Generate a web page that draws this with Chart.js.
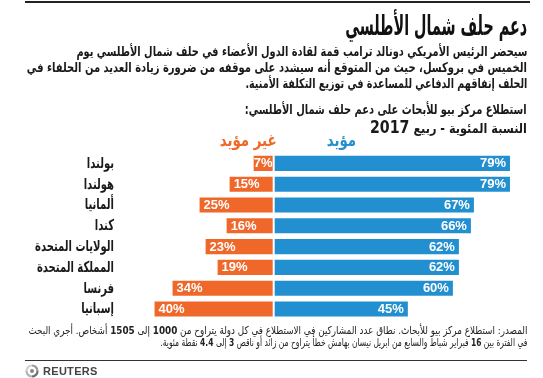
<!DOCTYPE html>
<html><head><meta charset="utf-8">
<script src="https://cdn.jsdelivr.net/npm/chart.js@4"></script>
<style>
html,body{margin:0;padding:0;background:#fff;}
#wrap{position:relative;width:543px;height:378px;overflow:hidden;background:#fff;font-family:"DejaVu Sans",sans-serif;color:#1a1a1a;}
#c{position:absolute;left:0;top:0;}
.t{position:absolute;white-space:nowrap;direction:rtl;text-align:right;transform-origin:100% 50%;}
.hr{position:absolute;background:#222;}
b{font-weight:bold;}
</style></head><body>
<div id="wrap">
<canvas id="c" width="543" height="378"></canvas>
<div class="hr" style="left:25px;top:1px;width:505px;height:2px"></div>
<div class="t" id="title" style="right:16px;top:10px;font-size:27px;line-height:32px;font-weight:bold;color:#111">دعم حلف شمال الأطلسي</div>
<div class="t" id="b1" style="right:16px;top:43px;font-size:13.5px;line-height:17px;font-weight:bold">سيحضر الرئيس الأمريكي دونالد ترامب قمة لقادة الدول الأعضاء في حلف شمال الأطلسي يوم</div>
<div class="t" id="b2" style="right:16px;top:59px;font-size:13.5px;line-height:17px;font-weight:bold">الخميس في بروكسل، حيث من المتوقع أنه سيشدد على موقفه من ضرورة زيادة العديد من الحلفاء في</div>
<div class="t" id="b3" style="right:16px;top:75px;font-size:13.5px;line-height:17px;font-weight:bold">الحلف إنفاقهم الدفاعي للمساعدة في توزيع التكلفة الأمنية.</div>
<div class="t" id="s1" style="right:16px;top:101px;font-size:13.5px;line-height:17px;font-weight:bold">استطلاع مركز بيو للأبحاث على دعم حلف شمال الأطلسي:</div>
<div class="t" id="s2" style="right:16px;top:118px;font-size:13.5px;line-height:18px;font-weight:bold">النسبة المئوية - ربيع <span style="font-size:17px">2017</span></div>
<div class="t" id="f1" style="right:16px;top:325px;font-size:11px;line-height:12px;color:#222">المصدر: استطلاع مركز بيو للأبحاث. نطاق عدد المشاركين في الاستطلاع في كل دولة يتراوح من <b>1000</b> إلى <b>1505</b> أشخاص. أجري البحث</div>
<div class="t" id="f2" style="right:16px;top:337px;font-size:11px;line-height:12px;color:#222">في الفترة بين <b>16</b> فبراير شباط والسابع من ابريل نيسان بهامش خطأ يتراوح من زائد أو ناقص <b>3</b> إلى <b>4.4</b> نقطة مئوية.</div>
<div class="hr" style="left:25px;top:360px;width:502px;height:1px;background:#333"></div>
<svg style="position:absolute;left:24px;top:364px" width="16" height="14" viewBox="0 0 16 14">
  <g fill="none" stroke-width="2.2">
    <path d="M8 1.5 A5.5 5.5 0 0 1 13.5 7" stroke="#9a9a9a"/>
    <path d="M13.5 7 A5.5 5.5 0 0 1 8 12.5" stroke="#6f6f6f"/>
    <path d="M8 12.5 A5.5 5.5 0 0 1 2.5 7" stroke="#b5b5b5"/>
    <path d="M2.5 7 A5.5 5.5 0 0 1 8 1.5" stroke="#d0d0d0"/>
  </g>
  <circle cx="8" cy="7" r="2" fill="#888"/>
</svg>
<div style="position:absolute;left:43px;top:365px;font-family:'Liberation Sans',Arial,sans-serif;font-weight:bold;font-size:11px;line-height:12px;color:#444;letter-spacing:0.3px">REUTERS</div>
</div>
<script>
// ---- data ----
const countries = ['بولندا','هولندا','ألمانيا','كندا','الولايات المتحدة','المملكة المتحدة','فرنسا','إسبانيا'];
const supportValues = [79,79,67,66,62,62,60,45];
const opposeValues = [7,15,25,16,23,19,34,40];
const seriesNames = ['مؤيد','غير مؤيد'];

const BLUE = '#2290d0';
const ORANGE = '#f0672a';

// squeeze HTML text lines horizontally to the reference widths
function squeeze(id, target){
  const el = document.getElementById(id);
  const w = el.getBoundingClientRect().width;
  el.style.transform = 'scaleX(' + (target/w) + ')';
}
squeeze('title', 182);
squeeze('b1', 451);
squeeze('b2', 500);
squeeze('b3', 282);
squeeze('s1', 282);
squeeze('s2', 157);
squeeze('f1', 499);
squeeze('f2', 367);

function drawSqueezed(ctx, text, x, y, align, sx){
  ctx.save();
  ctx.translate(x, y);
  ctx.scale(sx, 1);
  ctx.textAlign = align;
  ctx.fillText(text, 0, 0);
  ctx.restore();
}

const labelsPlugin = {
  id:'labelsPlugin',
  afterDatasetsDraw(chart){
    const ctx = chart.ctx;
    const xs = chart.scales.x, ys = chart.scales.y;
    const zero = xs.getPixelForValue(0);
    ctx.save();
    ctx.textBaseline = 'middle';
    // value labels
    ctx.font = 'bold 13px "Liberation Sans", Arial, sans-serif';
    ctx.fillStyle = '#fff';
    chart.getDatasetMeta(0).data.forEach((bar,i)=>{
      ctx.textAlign = 'right';
      ctx.fillText(supportValues[i]+'%', bar.x-5, bar.y+0.5);
    });
    chart.getDatasetMeta(1).data.forEach((bar,i)=>{
      const txt = opposeValues[i]+'%';
      const tw = ctx.measureText(txt).width;
      const w = zero - bar.x;
      if (w < tw + 10){
        ctx.textAlign = 'center';
        ctx.fillText(txt, (bar.x+zero)/2, bar.y+0.5);
      } else {
        ctx.textAlign = 'left';
        ctx.fillText(txt, bar.x+5, bar.y+0.5);
      }
    });
    // category labels (Arabic), drawn at the category scale positions
    ctx.direction = 'rtl';
    ctx.fillStyle = '#1a1a1a';
    ctx.font = 'bold 15px "DejaVu Sans", sans-serif';
    const refW = ctx.measureText(countries[4]).width;
    const sx = 79 / refW;
    countries.forEach((c,i)=>{
      drawSqueezed(ctx, c, 114, ys.getPixelForValue(i)+0.5, 'right', sx);
    });
    // legend words
    ctx.font = 'bold 17px "DejaVu Sans", sans-serif';
    const lw = ctx.measureText(seriesNames[1]).width;
    const lsx = 57 / lw;
    ctx.fillStyle = ORANGE;
    drawSqueezed(ctx, seriesNames[1], zero+3, 142, 'right', lsx);
    ctx.fillStyle = BLUE;
    drawSqueezed(ctx, seriesNames[0], zero+53, 142, 'left', lsx);
    ctx.restore();
  }
};

new Chart(document.getElementById('c'), {
  type:'bar',
  data:{
    labels: countries,
    datasets:[
      {label:seriesNames[0], data:supportValues, backgroundColor:BLUE, borderColor:'#fff', borderWidth:1, borderSkipped:false, barPercentage:0.82, categoryPercentage:1},
      {label:seriesNames[1], data:opposeValues.map(v=>-v), backgroundColor:ORANGE, borderColor:'#fff', borderWidth:1, borderSkipped:false, barPercentage:0.82, categoryPercentage:1}
    ]
  },
  options:{
    indexAxis:'y',
    responsive:false,
    animation:false,
    devicePixelRatio:1,
    layout:{padding:{left:0,right:8,top:153,bottom:58.6}},
    plugins:{legend:{display:false},tooltip:{enabled:false}},
    scales:{
      x:{display:false, stacked:true, min:-50.5, max:87},
      y:{stacked:true, grid:{display:false, drawTicks:false}, border:{display:false},
         ticks:{display:false},
         afterFit(s){ s.width = 122; }}
    }
  },
  plugins:[labelsPlugin]
});
</script>
</body></html>
